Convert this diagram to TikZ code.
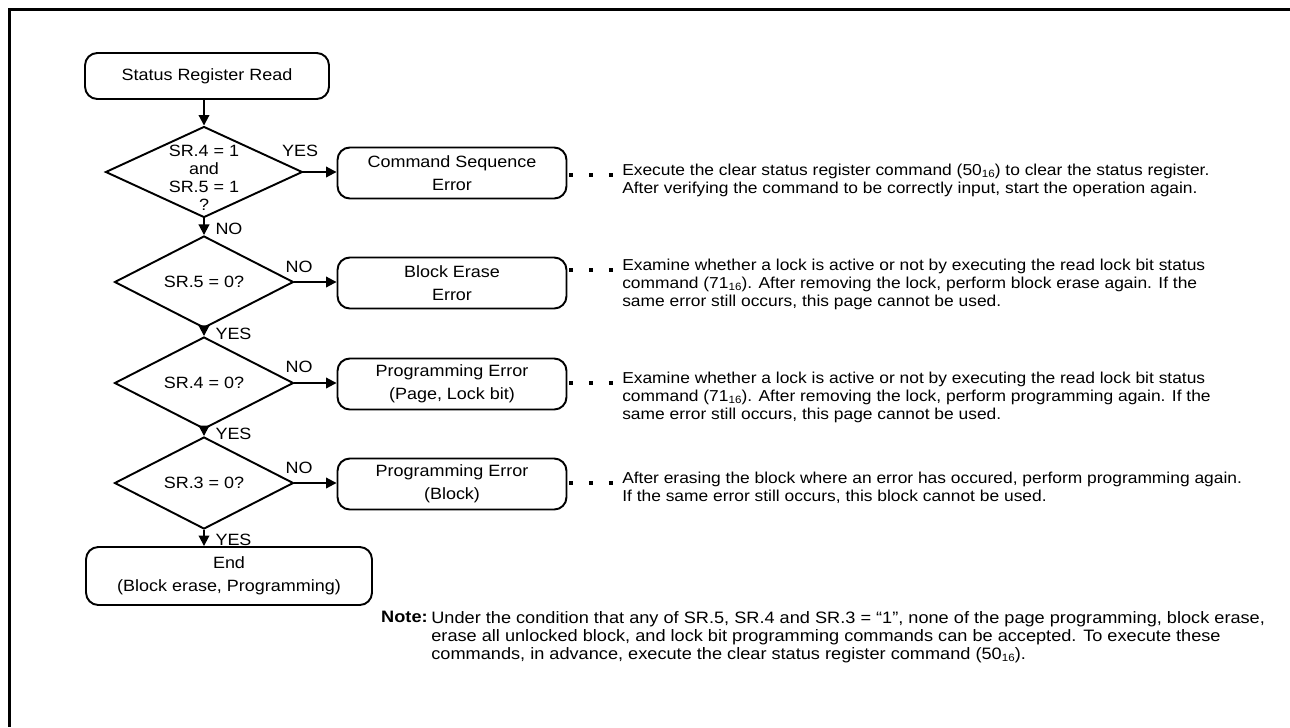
\documentclass[tikz,border=0pt]{standalone}
\usepackage{fontspec}
\setmainfont{Liberation Sans}[FakeStretch=1.1]
\definecolor{flowblack}{HTML}{000000}
\usetikzlibrary{arrows.meta,positioning,shapes.geometric}
\newcommand{\hexsub}[1]{\raisebox{-0.25ex}{\fontsize{6}{6}\selectfont #1}}
\tikzset{
    flowbox/.style={
        draw=flowblack,
        fill=white,
        rounded corners=7pt,
        line width=1.1pt,
        inner sep=0pt,
        align=center,
        font=\fontsize{9.3}{13}\selectfont
    },
    decision/.style={
        diamond,
        draw=flowblack,
        line width=1.1pt,
        inner sep=0pt
    },
    flowarrow/.style={
        -{Triangle[length=6pt,width=6pt]},
        draw=flowblack,
        line width=1.1pt
    },
    flowlabel/.style={
        inner sep=1pt,
        font=\fontsize{9.3}{10.2}\selectfont
    },
    dotlink/.style={
        draw=flowblack,
        line width=2.3pt,
        dash pattern=on 2.3pt off 9pt
    },
    remark/.style={
        anchor=north west,
        inner sep=0pt,
        align=left,
        font=\fontsize{9.0}{10.2}\selectfont
    },
    noteremark/.style={
        remark,
        font=\fontsize{9.4}{10.2}\selectfont
    }
}

\begin{document}
\begin{tikzpicture}[x=0.02cm,y=-0.02cm,font=\fontsize{9.3}{10.2}\selectfont]
    \useasboundingbox (0,0) rectangle (1290,727);
    \draw[line width=2pt] (1290,9.5) -- (9.5,9.5) -- (9.5,727);

    \node[flowbox, minimum width=4.88cm, minimum height=0.92cm] (start) at (207,76) {Status Register Read};

    \node[decision, minimum width=3.94cm, minimum height=1.82cm] (check1) at (204,172) {};
    \node[flowlabel, align=center] (check1text) at (204,178) {SR.4 = 1\\and\\SR.5 = 1\\?};
    \node[decision, minimum width=3.58cm, minimum height=1.48cm] (check2) at (204,282) {SR.5 = 0?};
    \node[decision, minimum width=3.58cm, minimum height=1.48cm] (check3) at (204,383) {SR.4 = 0?};
    \node[decision, minimum width=3.58cm, minimum height=1.50cm] (check4) at (204,483) {SR.3 = 0?};

    \node[flowbox, minimum width=5.72cm, minimum height=1.16cm] (finish) at (229,576) {End\\(Block erase, Programming)};

    \node[flowbox, minimum width=4.58cm, minimum height=1.02cm] (err1) at (452,173) {Command Sequence\\Error};
    \node[flowbox, minimum width=4.58cm, minimum height=1.02cm] (err2) at (452,283) {Block Erase\\Error};
    \node[flowbox, minimum width=4.58cm, minimum height=1.02cm] (err3) at (452,384) {Programming Error\\(Page, Lock bit)};
    \node[flowbox, minimum width=4.58cm, minimum height=1.02cm] (err4) at (452,484) {Programming Error\\(Block)};

    % main flow
    \draw[flowarrow] (start.south -| check1.north) -- (check1.north);
    \draw[flowarrow] (check1.south) -- node[pos=0.65, right=5pt, flowlabel]{NO} (check2.north);
    \draw[flowarrow] (check2.south) -- node[pos=0.65, right=5pt, flowlabel]{YES} (check3.north);
    \draw[flowarrow] (check3.south) -- node[pos=0.65, right=5pt, flowlabel]{YES} (check4.north);
    \draw[flowarrow] (check4.south) -- node[pos=0.6, right=5pt, flowlabel]{YES} (check4.south |- finish.north);

    % error branches
    \draw[flowarrow] (check1.east) -- (check1.east -| err1.west);
    \draw[flowarrow] (check2.east) -- (check2.east -| err2.west);
    \draw[flowarrow] (check3.east) -- (check3.east -| err3.west);
    \draw[flowarrow] (check4.east) -- (check4.east -| err4.west);
    \node[flowlabel] (yes1) at (300,151) {YES};
    \node[flowlabel] (no2) at (299,267) {NO};
    \node[flowlabel] (no3) at (299,367) {NO};
    \node[flowlabel] (no4) at (299,468) {NO};

    % remarks
    \coordinate (row1) at (614,175);
    \coordinate (row2) at (614,270);
    \coordinate (row3) at (614,383);
    \coordinate (row4) at (614,483);
    \node[remark] (remark1) at ([xshift=4.5pt,yshift=6.3pt]row1) {Execute the clear status register command (50\hexsub{16}) to clear the status register.\\After verifying the command to be correctly input, start the operation again.};
    \node[remark] (remark2) at ([xshift=4.5pt,yshift=6.3pt]row2) {Examine whether a lock is active or not by executing the read lock bit status\\command (71\hexsub{16}). After removing the lock, perform block erase again. If the\\same error still occurs, this page cannot be used.};
    \node[remark] (remark3) at ([xshift=4.5pt,yshift=6.3pt]row3) {Examine whether a lock is active or not by executing the read lock bit status\\command (71\hexsub{16}). After removing the lock, perform programming again. If the\\same error still occurs, this page cannot be used.};
    \node[remark] (remark4) at ([xshift=4.5pt,yshift=6.3pt]row4) {After erasing the block where an error has occured, perform programming again.\\If the same error still occurs, this block cannot be used.};
    \draw[dotlink] ([xshift=1pt]err1.east |- row1) -- (row1);
    \draw[dotlink] ([xshift=1pt]err2.east |- row2) -- (row2);
    \draw[dotlink] ([xshift=1pt]err3.east |- row3) -- (row3);
    \draw[dotlink] ([xshift=1pt]err4.east |- row4) -- (row4);

    \node[noteremark, anchor=north east] (notehead) at (428,611) {\textbf{Note:}};
    \node[noteremark] (notetext) at (431,611) {Under the condition that any of SR.5, SR.4 and SR.3 = “1”, none of the page programming, block erase,\\erase all unlocked block, and lock bit programming commands can be accepted. To execute these\\commands, in advance, execute the clear status register command (50\hexsub{16}).};
\end{tikzpicture}
\end{document}
